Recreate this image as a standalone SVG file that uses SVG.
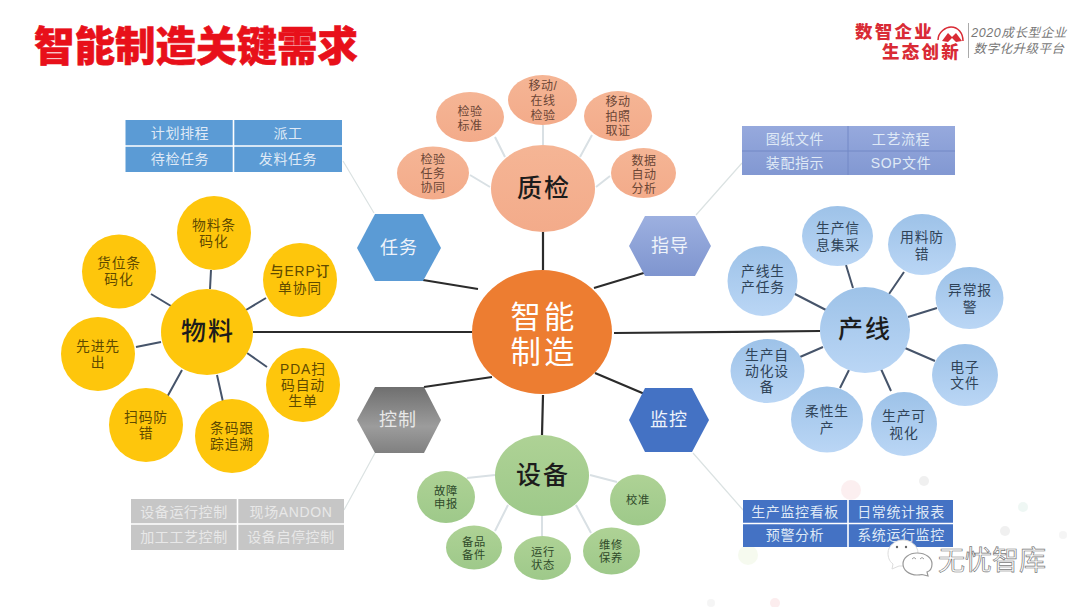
<svg xmlns="http://www.w3.org/2000/svg" width="1080" height="607" viewBox="0 0 1080 607">
<style>
text{font-family:"Liberation Sans","Noto Sans CJK SC",sans-serif;text-anchor:middle}
.ysub{font-size:13.800px;fill:#5f4a00;letter-spacing:.9px}
.bsub{font-size:13.800px;fill:#2f4358;letter-spacing:.9px}
.psub{font-size:12px;fill:#6b4636;letter-spacing:.6px}
.gsub{font-size:11.300px;fill:#2f4a2a;letter-spacing:.8px}
.hub{font-size:25px;fill:#1c1c1c;font-weight:500;letter-spacing:2px}
.hex{font-size:18px;fill:#eef3fa;letter-spacing:1px}
.cell{font-size:14px;fill:#dfe9f6;letter-spacing:.6px}
.gc{fill:#e8e8e8}
.dk{stroke:#2b2b2b;stroke-width:2.2;fill:none}
.sl{stroke:#46546a;stroke-width:2;fill:none}
.lt{stroke:#d9e0e4;stroke-width:2;fill:none}
.th{stroke:#dbe2e2;stroke-width:1.2;fill:none}
.y{fill:#fec60c}
.b{fill:url(#bg)}
.p{fill:url(#pg)}
.g{fill:url(#gg)}
.gap{stroke:#fff;stroke-width:1.6}
</style>
<defs>
<linearGradient id="bg" x1="0" y1="0" x2="0" y2="1"><stop offset="0" stop-color="#9dc2e8"/><stop offset="1" stop-color="#bad6f5"/></linearGradient>
<linearGradient id="pg" x1="0" y1="0" x2="0" y2="1"><stop offset="0" stop-color="#f5b595"/><stop offset="1" stop-color="#f3ab8a"/></linearGradient>
<linearGradient id="gg" x1="0" y1="0" x2="0" y2="1"><stop offset="0" stop-color="#aed295"/><stop offset="1" stop-color="#9ec98a"/></linearGradient>
<linearGradient id="hgi" x1="0" y1="0" x2="0" y2="1"><stop offset="0" stop-color="#9db0e0"/><stop offset="1" stop-color="#7f95cf"/></linearGradient>
<linearGradient id="hgc" x1="0" y1="0" x2="0" y2="1"><stop offset="0" stop-color="#6f6f6f"/><stop offset=".6" stop-color="#9c9c9c"/><stop offset="1" stop-color="#808080"/></linearGradient>
<linearGradient id="tgi" x1="0" y1="0" x2="0" y2="1"><stop offset="0" stop-color="#96a9dd"/><stop offset="1" stop-color="#8298d2"/></linearGradient>
</defs>
<rect width="1080" height="607" fill="#fff"/>
<g id="background" opacity=".28">
<circle cx="851" cy="490" r="10" fill="#f5c9cc"/><circle cx="924" cy="481" r="5" fill="#ccc"/><circle cx="1023" cy="507" r="5" fill="#c5e4d8"/><circle cx="1005" cy="531" r="5" fill="#ccc"/><circle cx="1063" cy="535" r="4" fill="#ddd"/><circle cx="748" cy="555" r="10" fill="#dff0c8"/><circle cx="711" cy="603" r="4" fill="#ddd"/><circle cx="775" cy="603" r="5" fill="#f5c0c4"/>
</g>
<g id="connectors">
<path class="dk" d="M543 232V270M423 280L478 289M647 272L594 288M253 332H472M820 331L614 333M424 387L492 377M647 395L595 373M543 395L542 435"/>
<path class="th" d="M374 213L343 161M696 215L742 163M375 453L344 510M693 453L743 510"/>
<path class="sl" d="M211 270L210 289M151 294L171 306M266 298L246 310M136 347L161 342M166 399L182 370M223 402L217 375M267 367L247 353"/>
<path class="sl" d="M793 293L826 310M846 265L853 288M904 272L889 294M937 308L908 317M935 361L905 348M891 391L881 369M840 388L849 370M800 357L823 347"/>
<path class="lt" d="M470 175L490 187M495 137L505 157M543 125V145M592 135L580 157M610 176L596 187"/>
<path class="lt" d="M467 478L495 475M495 531L508 505M542 536V516M591 533L576 505M617 482L590 475"/>
</g>
<g id="title"><text x="196" y="61" font-size="40.500" font-weight="900" fill="#e8101a" stroke="#e8101a" stroke-width=".6">智能制造关键需求</text></g>
<g id="logo">
<text x="894.500" y="37.500" font-size="17.500" font-weight="900" fill="#d92b35" letter-spacing="2.200">数智企业</text>
<text x="921.500" y="57.600" font-size="17.500" font-weight="900" fill="#d92b35" letter-spacing="2.200">生态创新</text>
<path d="M938 40C938 32 946 27 951 27C958 27 963 33 963 41" fill="none" stroke="#d92b35" stroke-width="1.500"/>
<path d="M942 41L948 33L952 37L956 33L962 41L956 42L952 38L948 42Z" fill="#d92b35"/>
<path d="M968.500 23V58" stroke="#aaa" stroke-width="1"/>
<text x="1019" y="37" font-size="12.500" font-style="italic" fill="#777" letter-spacing=".6">2020成长型企业</text>
<text x="1019" y="53" font-size="12.500" font-style="italic" fill="#777" letter-spacing=".5">数字化升级平台</text>
</g>
<g id="center"><ellipse cx="542" cy="332" rx="70" ry="62" fill="#ed7d31"/><text font-size="30.400" fill="#fff" letter-spacing="3"><tspan x="544" y="328">智能</tspan><tspan x="544" y="363">制造</tspan></text></g>

<g id="quality">
<ellipse class="p" cx="543" cy="188.500" rx="52" ry="43.500"/><text class="hub" x="544" y="197">质检</text>
<g id="q1"><ellipse class="p" cx="433" cy="173" rx="36" ry="26.500"/><text class="psub"><tspan x="433" y="164">检验</tspan><tspan x="433" y="178">任务</tspan><tspan x="433" y="192">协同</tspan></text></g>
<g id="q2"><ellipse class="p" cx="470" cy="117" rx="34" ry="25"/><text class="psub"><tspan x="470" y="116">检验</tspan><tspan x="470" y="130">标准</tspan></text></g>
<g id="q3"><ellipse class="p" cx="542.500" cy="100" rx="34.500" ry="25"/><text class="psub"><tspan x="543" y="90">移动/</tspan><tspan x="543" y="105">在线</tspan><tspan x="543" y="120">检验</tspan></text></g>
<g id="q4"><ellipse class="p" cx="618" cy="116" rx="34" ry="25"/><text class="psub"><tspan x="618" y="106">移动</tspan><tspan x="618" y="121">拍照</tspan><tspan x="618" y="135">取证</tspan></text></g>
<g id="q5"><ellipse class="p" cx="643.500" cy="173" rx="32.500" ry="25"/><text class="psub"><tspan x="644" y="165">数据</tspan><tspan x="644" y="179">自动</tspan><tspan x="644" y="193">分析</tspan></text></g>
</g>

<g id="device">
<ellipse class="g" cx="542" cy="475.500" rx="47" ry="40.500"/><text class="hub" x="543" y="484">设备</text>
<g id="d1"><ellipse class="g" cx="446" cy="497" rx="29" ry="26"/><text class="gsub"><tspan x="446" y="495">故障</tspan><tspan x="446" y="508">申报</tspan></text></g>
<g id="d2"><ellipse class="g" cx="474" cy="547.500" rx="28" ry="22"/><text class="gsub"><tspan x="474" y="546">备品</tspan><tspan x="474" y="559">备件</tspan></text></g>
<g id="d3"><ellipse class="g" cx="542.500" cy="558" rx="28.500" ry="22"/><text class="gsub"><tspan x="543" y="556">运行</tspan><tspan x="543" y="569">状态</tspan></text></g>
<g id="d4"><ellipse class="g" cx="611.500" cy="551" rx="28.500" ry="23.500"/><text class="gsub"><tspan x="611" y="549">维修</tspan><tspan x="611" y="562">保养</tspan></text></g>
<g id="d5"><ellipse class="g" cx="638" cy="500" rx="28" ry="25.500"/><text class="gsub" x="638" y="504">校准</text></g>
</g>

<g id="material">
<ellipse class="y" cx="207" cy="332" rx="46" ry="43"/><text class="hub" x="208" y="340">物料</text>
<g id="m1"><circle class="y" cx="214" cy="233" r="37"/><text class="ysub"><tspan x="214" y="230">物料条</tspan><tspan x="214" y="246">码化</tspan></text></g>
<g id="m2"><circle class="y" cx="119" cy="271.500" r="37"/><text class="ysub"><tspan x="119" y="268">货位条</tspan><tspan x="119" y="284">码化</tspan></text></g>
<g id="m3"><circle class="y" cx="300" cy="280" r="37"/><text class="ysub"><tspan x="300" y="276" font-weight="500">与ERP订</tspan><tspan x="300" y="293">单协同</tspan></text></g>
<g id="m4"><circle class="y" cx="98" cy="354" r="37"/><text class="ysub"><tspan x="98" y="351">先进先</tspan><tspan x="98" y="367">出</tspan></text></g>
<g id="m5"><circle class="y" cx="146" cy="425" r="37"/><text class="ysub"><tspan x="146" y="422">扫码防</tspan><tspan x="146" y="438">错</tspan></text></g>
<g id="m6"><circle class="y" cx="232" cy="436" r="37"/><text class="ysub"><tspan x="232" y="433">条码跟</tspan><tspan x="232" y="449">踪追溯</tspan></text></g>
<g id="m7"><circle class="y" cx="303" cy="385" r="37"/><text class="ysub"><tspan x="303" y="374">PDA扫</tspan><tspan x="303" y="390">码自动</tspan><tspan x="303" y="406">生单</tspan></text></g>
</g>

<g id="line">
<ellipse class="b" cx="865" cy="330" rx="45" ry="43"/><text class="hub" x="865" y="338">产线</text>
<g id="l1"><ellipse class="b" cx="762.500" cy="281" rx="35" ry="35"/><text class="bsub"><tspan x="763" y="276">产线生</tspan><tspan x="763" y="292">产任务</tspan></text></g>
<g id="l2"><ellipse class="b" cx="837.500" cy="236" rx="35.500" ry="30"/><text class="bsub"><tspan x="838" y="233">生产信</tspan><tspan x="838" y="250">息集采</tspan></text></g>
<g id="l3"><ellipse class="b" cx="922" cy="244.500" rx="34" ry="30.500"/><text class="bsub"><tspan x="922" y="242">用料防</tspan><tspan x="922" y="259">错</tspan></text></g>
<g id="l4"><ellipse class="b" cx="969.500" cy="298" rx="34" ry="31"/><text class="bsub"><tspan x="970" y="295">异常报</tspan><tspan x="970" y="312">警</tspan></text></g>
<g id="l5"><ellipse class="b" cx="965" cy="375" rx="33" ry="31"/><text class="bsub"><tspan x="965" y="372">电子</tspan><tspan x="965" y="388">文件</tspan></text></g>
<g id="l6"><ellipse class="b" cx="904" cy="424" rx="33" ry="32"/><text class="bsub"><tspan x="904" y="421">生产可</tspan><tspan x="904" y="438">视化</tspan></text></g>
<g id="l7"><ellipse class="b" cx="827" cy="419.500" rx="36" ry="33"/><text class="bsub"><tspan x="827" y="416">柔性生</tspan><tspan x="827" y="433">产</tspan></text></g>
<g id="l8"><ellipse class="b" cx="767.500" cy="371" rx="37" ry="32"/><text class="bsub"><tspan x="767" y="360">生产自</tspan><tspan x="767" y="376">动化设</tspan><tspan x="767" y="392">备</tspan></text></g>
</g>

<g id="task"><path d="M357 248L375 214H423L441 248L423 281H375Z" fill="#5b9bd5"/><text class="hex" x="399" y="254">任务</text></g>
<g id="guide"><path d="M629 246L645 216H695L711 246L695 276H645Z" fill="url(#hgi)"/><text class="hex" x="670" y="252">指导</text></g>
<g id="control"><path d="M357 420L375 387H424L441 420L424 453H375Z" fill="url(#hgc)"/><text class="hex gc" x="398" y="426">控制</text></g>
<g id="monitor"><path d="M629 420L645 388H692L709 420L692 452H645Z" fill="#4472c4"/><text class="hex" x="669" y="426">监控</text></g>

<g id="task-table"><rect x="125.500" y="120" width="216.500" height="52" fill="#5b9bd5"/><path class="gap" d="M233.500 120V172M125 146H342"/>
<text class="cell" x="180" y="138">计划排程</text><text class="cell" x="288" y="138">派工</text><text class="cell" x="180" y="164">待检任务</text><text class="cell" x="288" y="164">发料任务</text></g>
<g id="guide-table"><rect x="742" y="126" width="213" height="49" fill="url(#tgi)"/><path d="M848 126V175M742 151H955" stroke="#7288c6" stroke-width="1"/>
<text class="cell" x="795" y="144">图纸文件</text><text class="cell" x="901" y="144">工艺流程</text><text class="cell" x="795" y="168">装配指示</text><text class="cell" x="901" y="168">SOP文件</text></g>
<g id="control-table"><rect x="131" y="499" width="213" height="51" fill="#c6c6c6"/><path class="gap" d="M237.500 499V550M131 524H344"/>
<text class="cell gc" x="184" y="517">设备运行控制</text><text class="cell gc" x="291" y="517">现场ANDON</text><text class="cell gc" x="184" y="542">加工工艺控制</text><text class="cell gc" x="291" y="542">设备启停控制</text></g>
<g id="monitor-table"><rect x="743" y="500" width="210" height="47" fill="#4472c4"/><path class="gap" d="M848 500V547M743 523.500H953"/>
<text class="cell" x="795" y="517">生产监控看板</text><text class="cell" x="901" y="517">日常统计报表</text><text class="cell" x="795" y="540">预警分析</text><text class="cell" x="901" y="540">系统运行监控</text></g>

<g id="watermark">
<path d="M903 540C911 540 918 546 918 553C918 560 911 566 903 566L899 566L892 569L893 564C889 561 888 557 888 553C888 546 895 540 903 540Z" fill="#fff" stroke="#ddd" stroke-width="1"/>
<circle cx="897" cy="547" r="1.200" fill="#666"/><circle cx="906" cy="547" r="1.200" fill="#666"/>
<path d="M917 553C926 553 932 558 932 564C932 568 930 571 927 572L928 576L922 574.500C920 575 919 575 917 575C909 575 903 570 903 564C903 558 909 553 917 553Z" fill="#fff" stroke="#999" stroke-width="1.200"/>
<path d="M912 559l2 -1.500l2 1.500M920 559l2 -1.500l2 1.500" fill="none" stroke="#888" stroke-width=".8"/>
<text x="992" y="570" font-size="27" fill="#fff" stroke="#7a7a7a" stroke-width=".7">无忧智库</text>
</g>
</svg>
